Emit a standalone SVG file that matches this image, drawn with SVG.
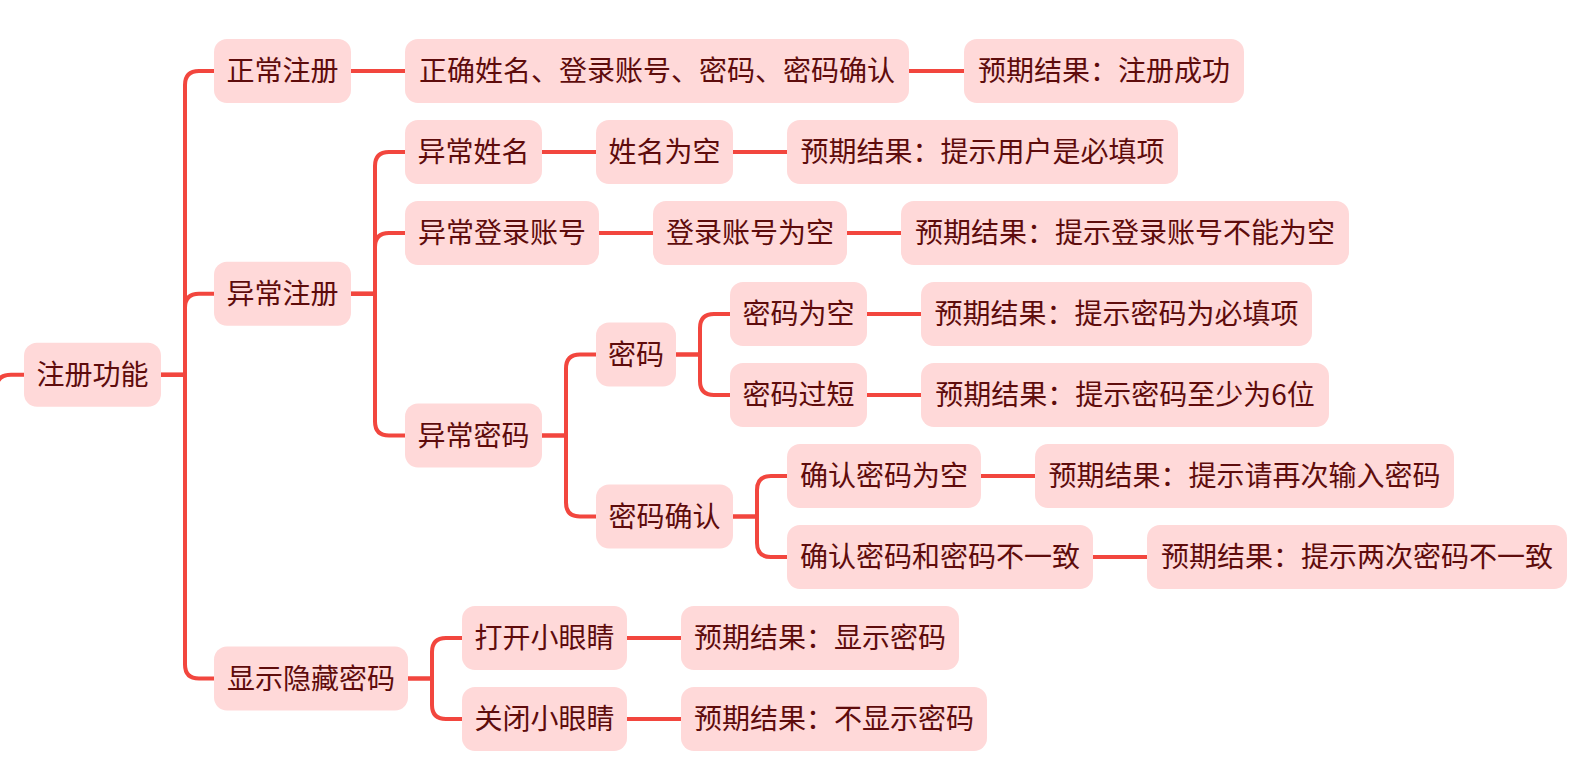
<svg xmlns="http://www.w3.org/2000/svg" width="1589" height="757" viewBox="0 0 1589 757">
<style>
.n rect{fill:#ffd9d9;}
.n text{font-family:"Noto Sans CJK SC","Noto Sans",sans-serif;font-size:28px;fill:#5e0c0c;text-anchor:middle;}
.c path{fill:none;stroke:#f2463e;stroke-width:4;stroke-linecap:round;stroke-linejoin:round;}
</style>
<rect width="1589" height="757" fill="#ffffff"/>
<g class="c" id="connectors">
<path d="M-4 400 V390 Q-4 374.75 11 374.75 H24"/>
<path d="M161 374.75 H185 V85 Q185 71 199 71 H214"/>
<path d="M161 374.75 H185 V307.75 Q185 293.75 199 293.75 H214"/>
<path d="M161 374.75 H185 V664.5 Q185 678.5 199 678.5 H214"/>
<path d="M351 293.75 H375 V166 Q375 152 389 152 H405"/>
<path d="M351 293.75 H375 V247 Q375 233 389 233 H405"/>
<path d="M351 293.75 H375 V421.5 Q375 435.5 389 435.5 H405"/>
<path d="M542 435.5 H566 V368.5 Q566 354.5 580 354.5 H596"/>
<path d="M542 435.5 H566 V502.5 Q566 516.5 580 516.5 H596"/>
<path d="M676 354.5 H700 V328 Q700 314 714 314 H730"/>
<path d="M676 354.5 H700 V381 Q700 395 714 395 H730"/>
<path d="M733 516.5 H757 V490 Q757 476 771 476 H787"/>
<path d="M733 516.5 H757 V543 Q757 557 771 557 H787"/>
<path d="M408 678.5 H432 V652 Q432 638 446 638 H462"/>
<path d="M408 678.5 H432 V705 Q432 719 446 719 H462"/>
<path d="M351 71 H405"/>
<path d="M909 71 H964"/>
<path d="M542 152 H596"/>
<path d="M733 152 H787"/>
<path d="M599 233 H653"/>
<path d="M847 233 H901"/>
<path d="M867 314 H921"/>
<path d="M867 395 H921"/>
<path d="M981 476 H1035"/>
<path d="M1093 557 H1147"/>
<path d="M627 638 H681"/>
<path d="M627 719 H681"/>
</g>
<g class="n" id="root"><rect x="24" y="342.75" width="137" height="64" rx="13"/><text x="92.5" y="384.75">注册功能</text></g>
<g class="n" id="n-normal"><rect x="214" y="39" width="137" height="64" rx="13"/><text x="282.5" y="81">正常注册</text></g>
<g class="n" id="n-normal-input"><rect x="405" y="39" width="504" height="64" rx="13"/><text x="657" y="81">正确姓名、登录账号、密码、密码确认</text></g>
<g class="n" id="n-normal-result"><rect x="964" y="39" width="280" height="64" rx="13"/><text x="1104" y="81">预期结果：注册成功</text></g>
<g class="n" id="n-abnormal"><rect x="214" y="261.75" width="137" height="64" rx="13"/><text x="282.5" y="303.75">异常注册</text></g>
<g class="n" id="n-name"><rect x="405" y="120" width="137" height="64" rx="13"/><text x="473.5" y="162">异常姓名</text></g>
<g class="n" id="n-name-empty"><rect x="596" y="120" width="137" height="64" rx="13"/><text x="664.5" y="162">姓名为空</text></g>
<g class="n" id="n-name-result"><rect x="787" y="120" width="391" height="64" rx="13"/><text x="982.5" y="162">预期结果：提示用户是必填项</text></g>
<g class="n" id="n-account"><rect x="405" y="201" width="194" height="64" rx="13"/><text x="502" y="243">异常登录账号</text></g>
<g class="n" id="n-account-empty"><rect x="653" y="201" width="194" height="64" rx="13"/><text x="750" y="243">登录账号为空</text></g>
<g class="n" id="n-account-result"><rect x="901" y="201" width="448" height="64" rx="13"/><text x="1125" y="243">预期结果：提示登录账号不能为空</text></g>
<g class="n" id="n-pwd"><rect x="405" y="403.5" width="137" height="64" rx="13"/><text x="473.5" y="445.5">异常密码</text></g>
<g class="n" id="n-pwd-main"><rect x="596" y="322.5" width="80" height="64" rx="13"/><text x="636" y="364.5">密码</text></g>
<g class="n" id="n-pwd-empty"><rect x="730" y="282" width="137" height="64" rx="13"/><text x="798.5" y="324">密码为空</text></g>
<g class="n" id="n-pwd-empty-result"><rect x="921" y="282" width="391" height="64" rx="13"/><text x="1116.5" y="324">预期结果：提示密码为必填项</text></g>
<g class="n" id="n-pwd-short"><rect x="730" y="363" width="137" height="64" rx="13"/><text x="798.5" y="405">密码过短</text></g>
<g class="n" id="n-pwd-short-result"><rect x="921" y="363" width="408" height="64" rx="13"/><text x="1125" y="405">预期结果：提示密码至少为6位</text></g>
<g class="n" id="n-confirm"><rect x="596" y="484.5" width="137" height="64" rx="13"/><text x="664.5" y="526.5">密码确认</text></g>
<g class="n" id="n-confirm-empty"><rect x="787" y="444" width="194" height="64" rx="13"/><text x="884" y="486">确认密码为空</text></g>
<g class="n" id="n-confirm-empty-result"><rect x="1035" y="444" width="419" height="64" rx="13"/><text x="1244.5" y="486">预期结果：提示请再次输入密码</text></g>
<g class="n" id="n-confirm-diff"><rect x="787" y="525" width="306" height="64" rx="13"/><text x="940" y="567">确认密码和密码不一致</text></g>
<g class="n" id="n-confirm-diff-result"><rect x="1147" y="525" width="420" height="64" rx="13"/><text x="1357" y="567">预期结果：提示两次密码不一致</text></g>
<g class="n" id="n-toggle"><rect x="214" y="646.5" width="194" height="64" rx="13"/><text x="311" y="688.5">显示隐藏密码</text></g>
<g class="n" id="n-open"><rect x="462" y="606" width="165" height="64" rx="13"/><text x="544.5" y="648">打开小眼睛</text></g>
<g class="n" id="n-open-result"><rect x="681" y="606" width="278" height="64" rx="13"/><text x="820" y="648">预期结果：显示密码</text></g>
<g class="n" id="n-close"><rect x="462" y="687" width="165" height="64" rx="13"/><text x="544.5" y="729">关闭小眼睛</text></g>
<g class="n" id="n-close-result"><rect x="681" y="687" width="306" height="64" rx="13"/><text x="834" y="729">预期结果：不显示密码</text></g>
</svg>
